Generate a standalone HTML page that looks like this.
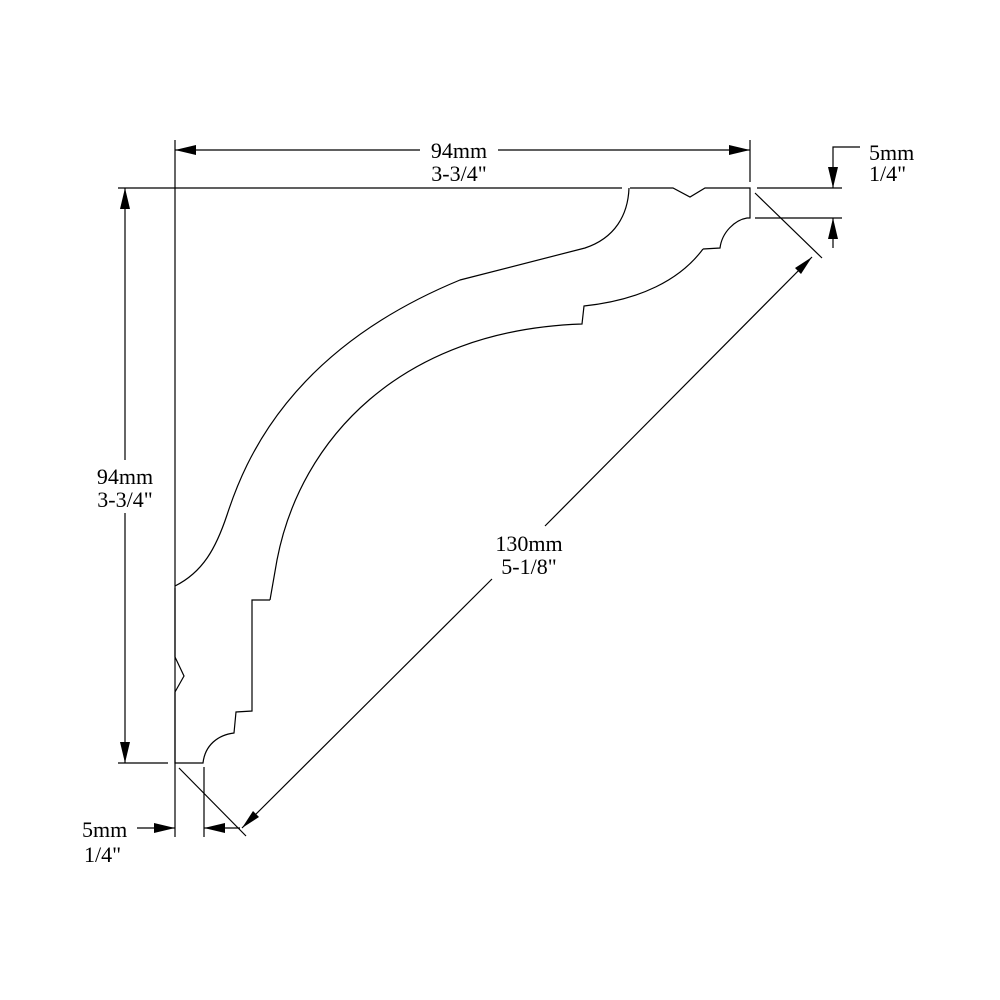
<!DOCTYPE html>
<html><head><style>
html,body{margin:0;padding:0;background:#fff;}
svg{display:block;}
text{font-family:"Liberation Serif",serif;font-size:22px;fill:#000;}
</style></head><body>
<svg width="1000" height="1000" viewBox="0 0 1000 1000">
<g stroke="#000" stroke-width="1.2" fill="none">
<!-- profile -->
<path d="M175,586 C203,572 216,548 227,515 C245,460 290,350 460,280 L585,248 C615,238 628,215 629,188"/>
<path d="M270,600 L277,560 C300,440 400,330 582,324 L584,306 C640,300 680,280 703,249"/>
<path d="M703,249 L720,248 C722,232 735,220 747,218 L750,218 L750,188 L705,188 L690,197 L673,188 L630,188"/>
<path d="M175,588 L175,657 L184,676 L175,692 L175,763 L203,763 C205,745 218,735 234,733 L236,712 L252,711 L252,600 L270,600"/>
<!-- extension lines -->
<line x1="118" y1="188" x2="622" y2="188"/>
<line x1="175" y1="140" x2="175" y2="770"/>
<line x1="750" y1="140" x2="750" y2="182"/>
<line x1="757" y1="188" x2="842" y2="188"/>
<line x1="755" y1="218" x2="842" y2="218"/>
<line x1="118" y1="763" x2="168" y2="763"/>
<line x1="175" y1="770" x2="175" y2="837"/>
<line x1="204" y1="767" x2="204" y2="837"/>
<line x1="755" y1="193" x2="822" y2="258"/>
<line x1="179" y1="768" x2="246" y2="836"/>
<!-- dimension lines -->
<line x1="175" y1="150" x2="420" y2="150"/>
<line x1="498" y1="150" x2="750" y2="150"/>
<line x1="125" y1="188" x2="125" y2="460"/>
<line x1="125" y1="513" x2="125" y2="763"/>
<line x1="812" y1="257" x2="545" y2="526"/>
<line x1="492" y1="579" x2="242" y2="828"/>
<polyline points="860,147 833,147 833,188"/>
<line x1="833" y1="218" x2="833" y2="248"/>
<line x1="137" y1="828" x2="175" y2="828"/>
<line x1="204" y1="828" x2="240" y2="828"/>
</g>
<g fill="#000">
<polygon points="175,150 196,145 196,155"/>
<polygon points="750,150 729,145 729,155"/>
<polygon points="125,188 120,209 130,209"/>
<polygon points="125,763 120,742 130,742"/>
<polygon points="833,188 828,167 838,167"/>
<polygon points="833,218 828,239 838,239"/>
<polygon points="175,828 154,823 154,833"/>
<polygon points="204,828 225,823 225,833"/>
<polygon points="812,257 795,268 801,274"/>
<polygon points="242,828 253,811 259,817"/>
</g>
<text x="459" y="158" text-anchor="middle">94mm</text>
<text x="459" y="181" text-anchor="middle">3-3/4"</text>
<text x="125" y="484" text-anchor="middle">94mm</text>
<text x="125" y="507" text-anchor="middle">3-3/4"</text>
<text x="529" y="551" text-anchor="middle">130mm</text>
<text x="529" y="574" text-anchor="middle">5-1/8"</text>
<text x="869" y="160">5mm</text>
<text x="869" y="181">1/4"</text>
<text x="82" y="837">5mm</text>
<text x="84" y="862">1/4"</text>
</svg>
</body></html>
